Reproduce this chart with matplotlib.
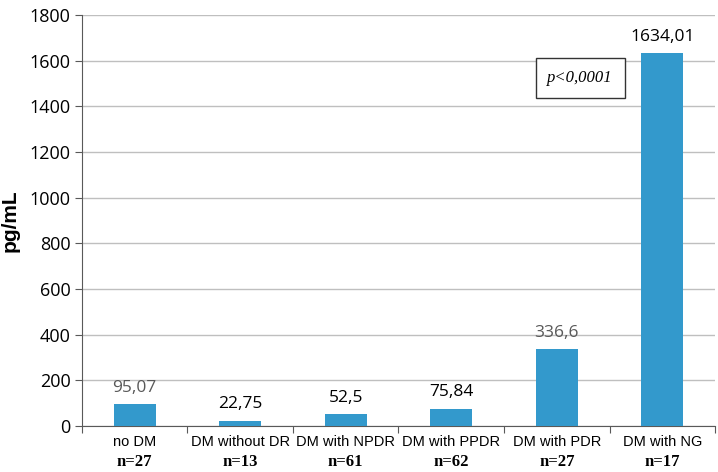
import matplotlib
matplotlib.use("Agg")
import matplotlib.pyplot as plt
import numpy as np

groups = ["no DM", "DM without DR", "DM with NPDR", "DM with PPDR", "DM with PDR", "DM with NG"]
counts = ["n=27", "n=13", "n=61", "n=62", "n=27", "n=17"]
values = [95.07, 22.75, 52.5, 75.84, 336.6, 1634.01]
value_labels = ["95,07", "22,75", "52,5", "75,84", "336,6", "1634,01"]
label_colors = ["#595959", "black", "black", "black", "#595959", "black"]

fig = plt.figure(figsize=(7.18, 4.72), dpi=100)
ax = fig.add_axes([0.114, 0.0975, 0.882, 0.8705])

x = np.arange(len(groups))
ax.bar(x, values, width=0.4, color="#3399cc", zorder=3)

for xi, v, lab, c in zip(x, values, value_labels, label_colors):
    ax.annotate(lab, (xi, v), xytext=(0, 6), textcoords="offset points",
                ha="center", va="bottom", fontsize=12.5, color=c,
                family="Open Sans")

ax.set_xlim(-0.5, len(groups) - 0.5)
ax.set_ylim(0, 1800)
ax.set_yticks(np.arange(0, 1801, 200))
ax.yaxis.grid(True, color="#bfbfbf", linewidth=1, zorder=0)
for lab in ax.get_yticklabels():
    lab.set_family("Open Sans")
    lab.set_fontsize(13)
ax.tick_params(axis="y", length=5, color="#595959", pad=3)

ax.set_xticks(np.arange(-0.5, len(groups)), minor=False)
ax.set_xticklabels([])
ax.tick_params(axis="x", length=5, color="#595959")
for xi, g, n in zip(x, groups, counts):
    ax.text(xi, -72, g, ha="center", va="center", fontsize=10.5,
            family="Liberation Sans")
    ax.text(xi, -158, n, ha="center", va="center", fontsize=12,
            family="Liberation Serif", fontweight="bold")

for s in ["top", "right"]:
    ax.spines[s].set_visible(False)
ax.spines["left"].set_color("#595959")
ax.spines["bottom"].set_color("#595959")

ax.set_ylabel("pg/mL", fontsize=15, fontweight="bold", family="Liberation Sans")
ax.yaxis.set_label_coords(-0.099, 0.5)

ax.text(4.22, 1524, "p<0,0001", ha="center", va="center", fontsize=12,
        family="Liberation Serif", style="italic",
        bbox=dict(boxstyle="square,pad=0.7", facecolor="white", edgecolor="#333333", linewidth=1))

fig.savefig("out.png", dpi=100)
